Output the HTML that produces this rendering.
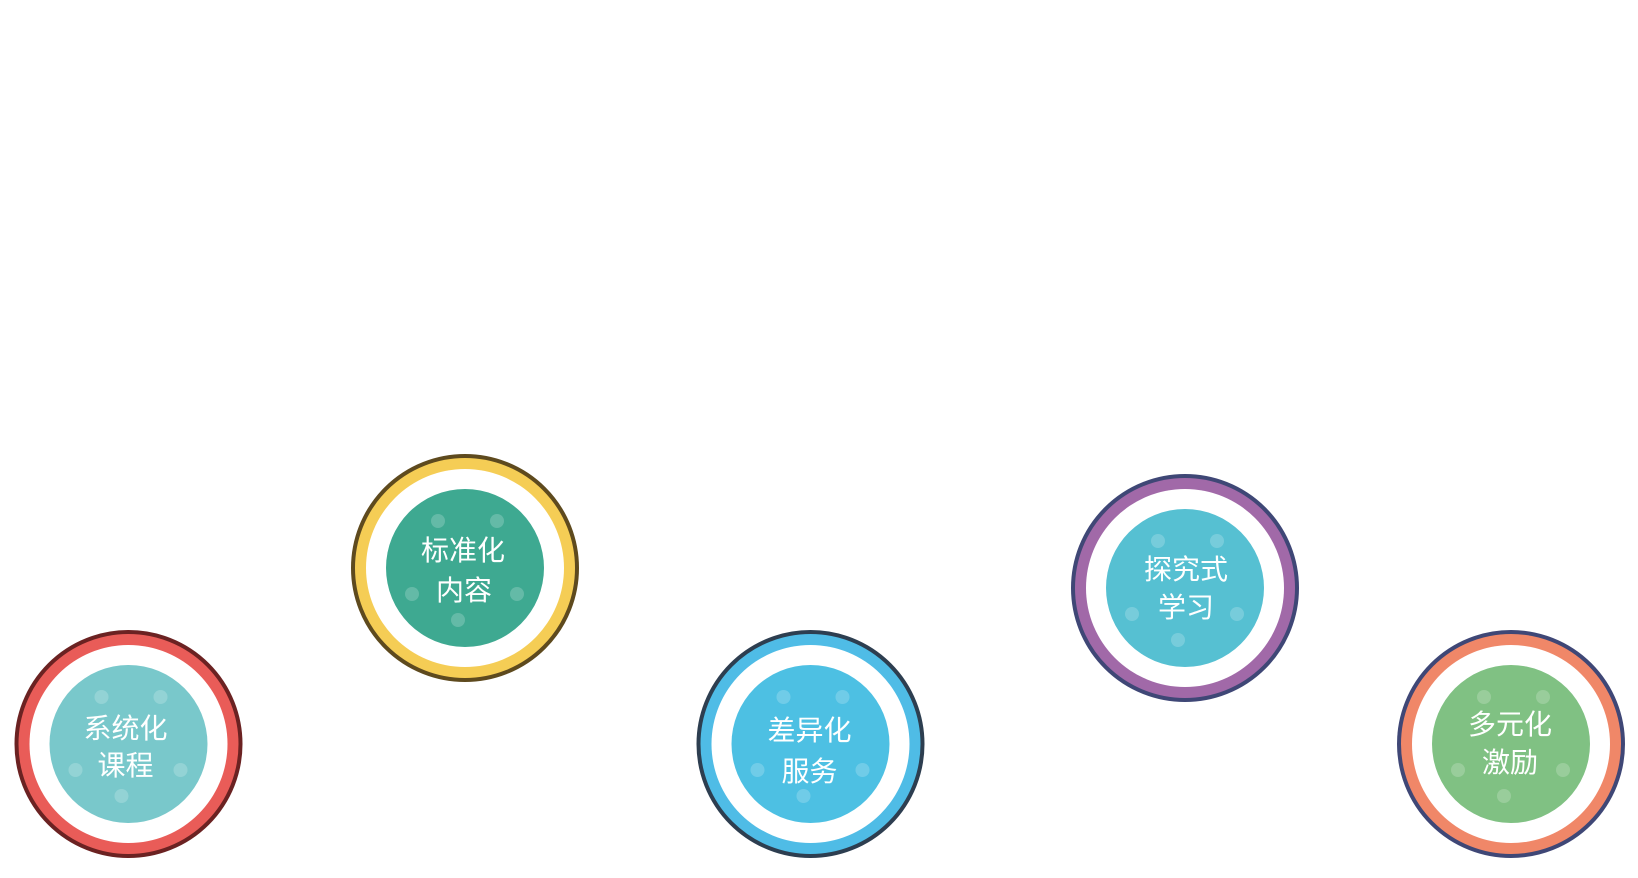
<!DOCTYPE html>
<html><head><meta charset="utf-8"><style>
html,body{margin:0;padding:0;background:#fff;}
svg{display:block}
text{font-family:"Liberation Sans","Noto Sans CJK SC",sans-serif;font-size:28px;fill:#fff;text-anchor:middle}
</style></head><body>
<svg width="1638" height="878" viewBox="0 0 1638 878" xmlns="http://www.w3.org/2000/svg">
<defs>
<g id="dots" fill="#fff" fill-opacity="0.2">
<circle cx="-27" cy="-47" r="7"/><circle cx="32" cy="-47" r="7"/>
<circle cx="-53" cy="26" r="7"/><circle cx="52" cy="26" r="7"/>
<circle cx="-7" cy="52" r="7"/>
</g>
</defs>
<g transform="translate(128.5,744)">
<circle r="112" fill="#e95c58" stroke="#6b2222" stroke-width="4"/>
<circle r="99" fill="#fff"/>
<circle r="79" fill="#79c8cb"/>
<use href="#dots"/>
<text x="-3" y="-6">系统化</text><text x="-3" y="31">课程</text>
</g>
<g transform="translate(465,568)">
<circle r="112" fill="#f5cd55" stroke="#5e4a1e" stroke-width="4"/>
<circle r="99" fill="#fff"/>
<circle r="79" fill="#3ea991"/>
<use href="#dots"/>
<text x="-2" y="-8">标准化</text><text x="-1" y="32">内容</text>
</g>
<g transform="translate(810.5,744)">
<circle r="112" fill="#4fbce6" stroke="#2d3e50" stroke-width="4"/>
<circle r="99" fill="#fff"/>
<circle r="79" fill="#4dc0e3"/>
<use href="#dots"/>
<text x="-1" y="-4">差异化</text><text x="-1" y="37">服务</text>
</g>
<g transform="translate(1185,588)">
<circle r="112" fill="#a169a8" stroke="#3f4776" stroke-width="4"/>
<circle r="99" fill="#fff"/>
<circle r="79" fill="#56c0d2"/>
<use href="#dots"/>
<text x="1" y="-9">探究式</text><text x="1" y="29">学习</text>
</g>
<g transform="translate(1511,744)">
<circle r="112" fill="#f08768" stroke="#3f4776" stroke-width="4"/>
<circle r="99" fill="#fff"/>
<circle r="79" fill="#80c183"/>
<use href="#dots"/>
<text x="-1" y="-10">多元化</text><text x="-1" y="28">激励</text>
</g>
</svg>
</body></html>
